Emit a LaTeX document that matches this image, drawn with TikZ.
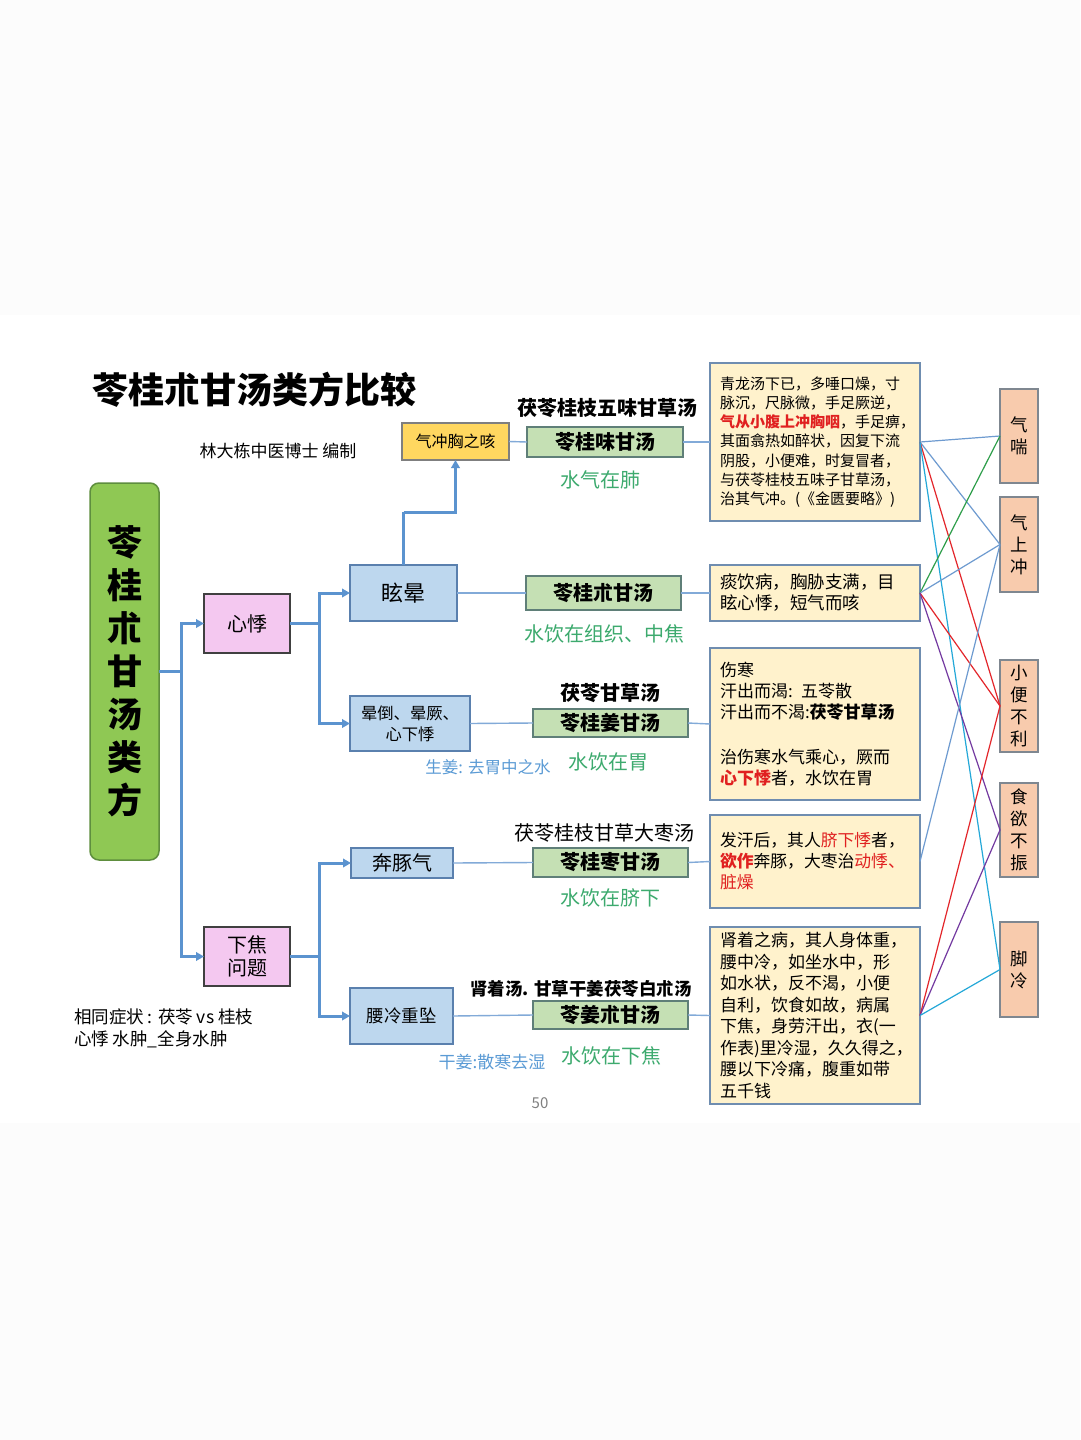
\documentclass[tikz,border=0pt]{standalone}
\usepackage{fontspec}
\setmainfont{Noto Sans CJK SC}
\usetikzlibrary{arrows.meta}
\definecolor{pagegray}{HTML}{FCFCFC}
\definecolor{maingreen}{HTML}{8FC854}
\definecolor{maingreenb}{HTML}{5E8E3E}
\definecolor{pinkf}{HTML}{F4C8F0}
\definecolor{darkb}{HTML}{404040}
\definecolor{bluef}{HTML}{BDD7EE}
\definecolor{blueb}{HTML}{5A80AE}
\definecolor{yelf}{HTML}{FFD760}
\definecolor{grayb}{HTML}{7F7F7F}
\definecolor{formf}{HTML}{C5E0B4}
\definecolor{formb}{HTML}{5F7F78}
\definecolor{creamf}{HTML}{FFF2CC}
\definecolor{creamb}{HTML}{6F8DB0}
\definecolor{symf}{HTML}{F8CBAD}
\definecolor{symb}{HTML}{7F8790}
\definecolor{arrowblue}{HTML}{5B93CF}
\definecolor{thinblue}{HTML}{82AAD8}
\definecolor{tgreen}{HTML}{3DAA6E}
\definecolor{tblue}{HTML}{5B9BD5}
\definecolor{tred}{HTML}{E02020}
\definecolor{cgreen}{HTML}{2E9E4A}
\definecolor{cred}{HTML}{E3262B}
\definecolor{cpurple}{HTML}{7339A0}
\definecolor{ccyan}{HTML}{24A8D8}
\definecolor{cblue}{HTML}{6E9BD0}
\newcommand\fsz[2]{\fontsize{#1}{#2}\selectfont}
\begin{document}
\begin{tikzpicture}[x=1pt,y=-1pt,
  box/.style={draw, inner sep=0pt, outer sep=0pt, align=center, line width=1.3pt},
  mainbox/.style={box, fill=maingreen, draw=maingreenb, rounded corners=9pt, line width=1.5pt, minimum width=69pt, minimum height=377pt, font=\fsz{35}{43}\bfseries},
  pinkbox/.style={box, fill=pinkf, draw=darkb, minimum width=86pt, minimum height=59pt, font=\fsz{20}{24}},
  bluebox/.style={box, fill=bluef, draw=blueb},
  yelbox/.style={box, fill=yelf, draw=grayb, minimum width=107pt, minimum height=37pt, font=\fsz{16}{20}},
  formbox/.style={box, fill=formf, draw=formb, minimum width=155pt, font=\fsz{20}{24}\bfseries},
  textbox/.style={box, fill=creamf, draw=creamb, text width=190pt, inner xsep=10pt, align=left},
  symbox/.style={box, fill=symf, draw=symb, minimum width=38pt, font=\fsz{17.5}{22}},
  thickarrow/.style={draw=arrowblue, line width=3pt, -{Triangle[length=8pt,width=8.5pt]}},
  thickline/.style={draw=arrowblue, line width=3pt},
  thinline/.style={draw=thinblue, line width=1.4pt},
  cross/.style={line width=1.2pt},
  lbl/.style={inner sep=0pt, outer sep=0pt}
]
\fill[pagegray] (0,0) rectangle (1080,1440);
\fill[white] (0,315) rectangle (1080,1123);
\useasboundingbox (0,0) rectangle (1080,1440);

% title
\node[lbl, font=\fsz{36}{40}\bfseries] (title) at (254,390) {苓桂朮甘汤类方比较};
\node[lbl, font=\fsz{17}{20}] (author) at (278,451) {林大栋中医博士 编制};

% main
\node[mainbox] (main) at (124.5,671.5) {苓\\桂\\朮\\甘\\汤\\类\\方};

\node[pinkbox] (xinji) at (247,623.5) {心悸};
\node[pinkbox, font=\fsz{20}{23}] (xiajiao) at (247,956.5) {下焦\\问题};

\node[bluebox, minimum width=107pt, minimum height=56pt, font=\fsz{22}{26}] (xuanyun) at (403.5,593) {眩晕};
\node[bluebox, minimum width=120pt, minimum height=55pt, font=\fsz{16.3}{21}] (yundao) at (410,723.5) {晕倒、晕厥、\\心下悸};
\node[bluebox, minimum width=102pt, minimum height=30pt, font=\fsz{20}{24}] (bentun) at (402,863) {奔豚气};
\node[bluebox, minimum width=103pt, minimum height=56pt, font=\fsz{17.5}{22}] (yaoleng) at (401.5,1016) {腰冷重坠};

\node[yelbox] (qichong) at (455.5,441.5) {气冲胸之咳};

\node[formbox, minimum width=156pt, minimum height=30pt] (f1) at (605,442) {苓桂味甘汤};
\node[formbox, minimum height=34pt] (f2) at (603.5,593) {苓桂朮甘汤};
\node[formbox, minimum height=28pt] (f3) at (610.5,723) {苓桂姜甘汤};
\node[formbox, minimum height=29pt] (f4) at (610.5,862.5) {苓桂枣甘汤};
\node[formbox, minimum height=28pt] (f5) at (610.5,1015) {苓姜朮甘汤};

% labels around formulas
\node[lbl, font=\fsz{20}{24}\bfseries] (l1) at (607,408) {茯苓桂枝五味甘草汤};
\node[lbl, font=\fsz{20}{24}, text=tgreen] (l2) at (600,480) {水气在肺};
\node[lbl, font=\fsz{20}{24}, text=tgreen] (l3) at (604,634) {水饮在组织、中焦};
\node[lbl, font=\fsz{20}{24}\bfseries] (l4) at (610,693) {茯苓甘草汤};
\node[lbl, font=\fsz{16.5}{20}, text=tblue] (l5) at (488,767) {生姜: 去胃中之水};
\node[lbl, font=\fsz{20}{24}, text=tgreen] (l6) at (608,762) {水饮在胃};
\node[lbl, font=\fsz{20}{24}] (l7) at (604,833) {茯苓桂枝甘草大枣汤};
\node[lbl, font=\fsz{20}{24}, text=tgreen] (l8) at (610,898) {水饮在脐下};
\node[lbl, font=\fsz{17.5}{20}\bfseries] (l9) at (581,989) {肾着汤. 甘草干姜茯苓白朮汤};
\node[lbl, font=\fsz{17}{20}, text=tblue] (l10) at (492,1062) {干姜:散寒去湿};
\node[lbl, font=\fsz{20}{24}, text=tgreen] (l11) at (611,1056) {水饮在下焦};
\node[lbl, anchor=west, font=\fsz{17.5}{22}, align=left] (note) at (74,1028) {相同症状 : 茯苓 vs 桂枝\\心悸 水肿\_全身水肿};
\node[lbl, font=\fsz{15}{18}, text=grayb] (page) at (540,1103) {50};

% text boxes
\node[textbox, minimum height=158pt, font=\fsz{15}{19.2}] (t1) at (815,442) {青龙汤下已，多唾口燥，寸\\
脉沉，尺脉微，手足厥逆，\\
{\color{tred}\bfseries 气从小腹上冲胸咽}，手足痹，\\
其面翕热如醉状，因复下流\\
阴股，小便难，时复冒者，\\
与茯苓桂枝五味子甘草汤，\\
治其气冲。(《金匮要略》)};
\node[textbox, minimum height=56pt, font=\fsz{17.5}{21}] (t2) at (815,593) {痰饮病，胸胁支满，目\\眩心悸，短气而咳};
\node[textbox, minimum height=152pt, font=\fsz{17}{21}] (t3) at (815,724) {伤寒\\
汗出而渴: 五苓散\\
汗出而不渴:{\bfseries 茯苓甘草汤}\\[24pt]
治伤寒水气乘心，厥而\\
{\color{tred}\bfseries 心下悸}者，水饮在胃};
\node[textbox, minimum height=93pt, font=\fsz{16.8}{21}] (t4) at (815,861.5) {发汗后，其人{\color{tred}脐下悸}者，\\
{\color{tred}\bfseries 欲作}奔豚，大枣治{\color{tred}动悸、}\\
{\color{tred}脏燥}};
\node[textbox, minimum height=177pt, font=\fsz{17}{21.5}] (t5) at (815,1015.5) {肾着之病，其人身体重，\\
腰中冷，如坐水中，形\\
如水状，反不渴，小便\\
自利，饮食如故，病属\\
下焦，身劳汗出，衣(一\\
作表)里冷湿，久久得之，\\
腰以下冷痛，腹重如带\\
五千钱};

% symptom boxes
\node[symbox, minimum height=94pt] (s1) at (1019,436) {气\\喘};
\node[symbox, minimum height=95pt] (s2) at (1019,544.5) {气\\上\\冲};
\node[symbox, minimum height=92pt] (s3) at (1019,706) {小\\便\\不\\利};
\node[symbox, minimum height=94pt] (s4) at (1019,830) {食\\欲\\不\\振};
\node[symbox, minimum height=95pt] (s5) at (1019,969.5) {脚\\冷};

% tree connectors
\coordinate (j1) at (181,671.5);
\coordinate (j2) at (319,623.5);
\coordinate (j3) at (319,956.5);
\coordinate (j4) at (403.5,512);
\draw[thickline] (main.east) -- (j1);
\draw[thickarrow] (j1) |- (xinji.west);
\draw[thickarrow] (j1) |- (xiajiao.west);
\draw[thickline] (xinji.east) -- (j2);
\draw[thickarrow] (j2) |- (xuanyun.west);
\draw[thickarrow] (j2) |- (yundao.west);
\draw[thickline] (xiajiao.east) -- (j3);
\draw[thickarrow] (j3) |- (bentun.west);
\draw[thickarrow] (j3) |- (yaoleng.west);
\draw[thickline] (xuanyun.north) -- (j4);
\draw[thickarrow] (j4) -| (qichong.south);

% thin connectors
\draw[thinline] (qichong.east) -- (f1.west);
\draw[thinline] (f1.east) -- (t1.west);
\draw[thinline] (xuanyun.east) -- (f2.west);
\draw[thinline] (f2.east) -- (t2.west);
\draw[thinline] (yundao.east) -- (f3.west);
\draw[thinline] (f3.east) -- (t3.west);
\draw[thinline] (bentun.east) -- (f4.west);
\draw[thinline] (f4.east) -- (t4.west);
\draw[thinline] (yaoleng.east) -- (f5.west);
\draw[thinline] (f5.east) -- (t5.west);

% cross connectors
\draw[cross, cblue] (t1.east) -- (s1.west);
\draw[cross, cblue] (t1.east) -- (s2.west);
\draw[cross, cred] (t1.east) -- (s3.west);
\draw[cross, ccyan] (t1.east) -- (s5.west);
\draw[cross, cgreen] (t2.east) -- (s1.west);
\draw[cross, cblue] (t2.east) -- (s2.west);
\draw[cross, cred] (t2.east) -- (s3.west);
\draw[cross, cpurple] (t2.east) -- (s4.west);
\draw[cross, cblue] (t4.east) -- (s2.west);
\draw[cross, cred] (t5.east) -- (s3.west);
\draw[cross, cpurple] (t5.east) -- (s4.west);
\draw[cross, ccyan] (t5.east) -- (s5.west);
\end{tikzpicture}
\end{document}
